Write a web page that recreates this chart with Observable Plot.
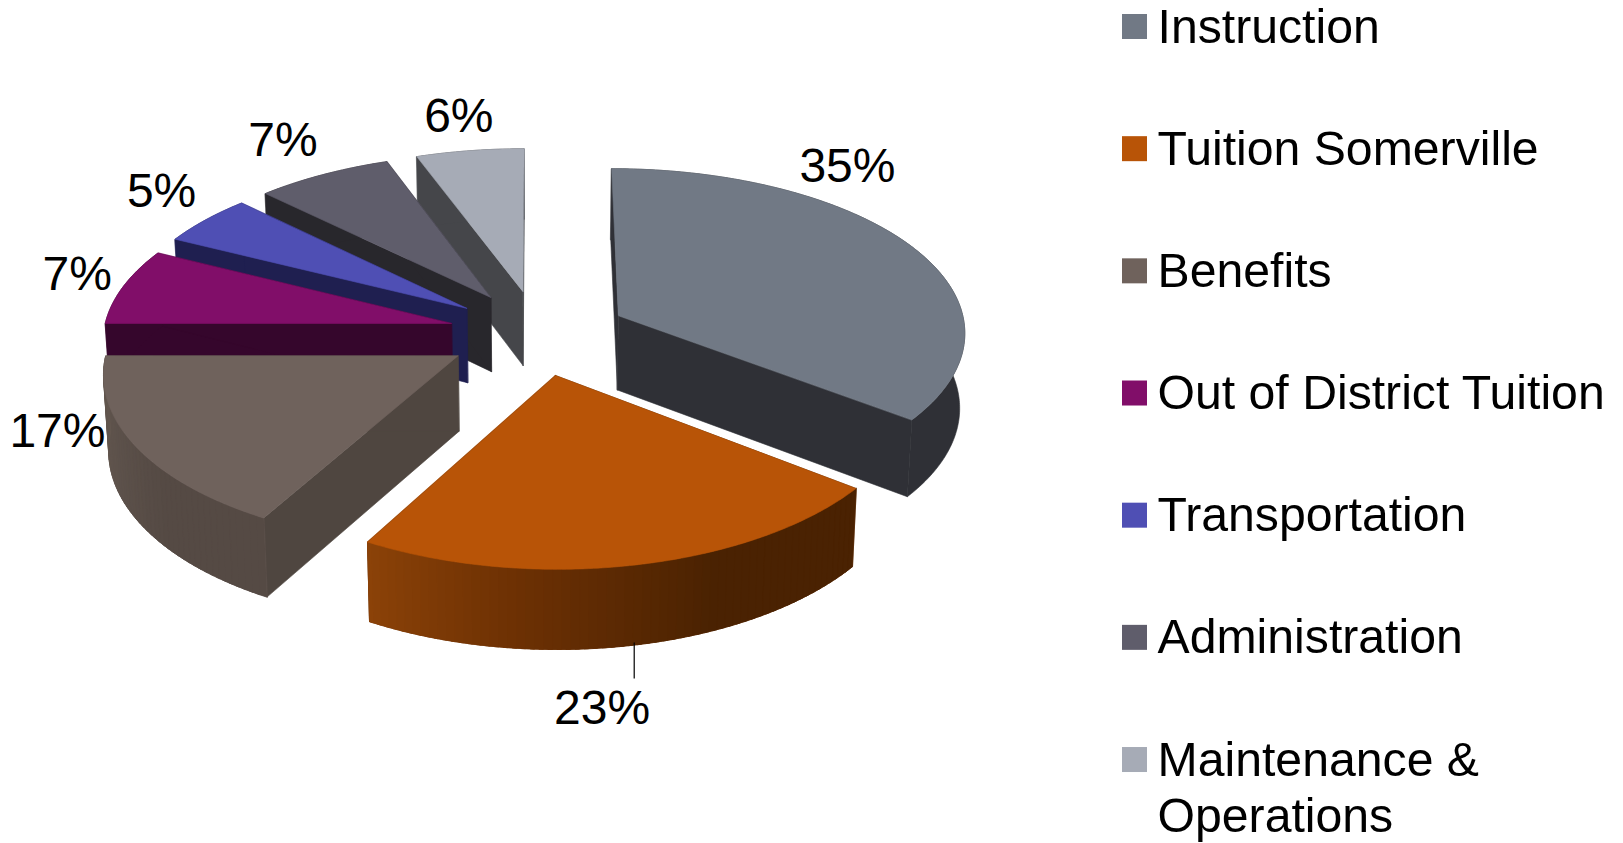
<!DOCTYPE html>
<html>
<head>
<meta charset="utf-8">
<script src="https://cdn.jsdelivr.net/npm/d3@7"></script>
<script src="https://cdn.jsdelivr.net/npm/@observablehq/plot@0.6"></script>
<style>html,body{margin:0;padding:0;background:#fff}svg{display:block}</style>
</head>
<body>
<div id="chart"></div>
<script>
// data
const categories = ["Instruction","Tuition Somerville","Benefits","Out of District Tuition","Transportation","Administration","Maintenance & Operations"];
const shares = [35.42, 22.72, 16.86, 7.45, 4.97, 7.03, 5.55];
const topColors = ["#717985","#b85407","#6f625c","#810e69","#4f4fb4","#5f5d6b","#a6abb6"];
const wallColors = ["#2f3036","#4a2202","#4f4640","#35062c","#1f1f50","#28272c","#45464a"];
const rimLeftColors = ["#2f3036","#8b4208","#63574f","#35062c","#1f1f50","#28272c","#45464a"];
const rimMidColors = ["#2f3036","#6b3003","#5e534c","#35062c","#1f1f50","#28272c","#45464a"];
const rimRightColors = ["#2f3036","#4a2202","#554a44","#35062c","#1f1f50","#28272c","#45464a"];
const legendLines = [["Instruction"],["Tuition Somerville"],["Benefits"],["Out of District Tuition"],["Transportation"],["Administration"],["Maintenance &","Operations"]];
// label nudges from the rim midpoint of each slice
const labelNudge = [[-69,-79],[-38,142],[-80,-15],[-46,-12],[-44,-28],[-41,-34],[-13,-34]];
// small per-slice shifts of the exploded slices
const sliceNudge = [[-4,1],[-4,-2],[-2,0],[0,0],[0,0],[-1,0],[-2,0]];

// geometry of the view
const W = 1623, H = 843;
const view = {cx:540, cy:333, fx:348, fy:165, kx:0.09, k:0.1, explode:0.265, depth:75, shrink:0.988};
const rad = d => d*Math.PI/180;
function project(X, Y, lower, nudge=[0,0]) {
  const s = 1/(1+view.k*Y), sx = 1/(1+view.kx*Y);
  let x = view.cx + view.fx*X*sx, y = view.cy - view.fy*Y*s;
  if (lower) { x = view.cx + (x-view.cx)*view.shrink; y += view.depth*Math.sqrt(s); }
  return [x+nudge[0],y+nudge[1]];
}
const total = d3.sum(shares);
let run = 0;
const slices = shares.map((v,i)=>{
  const a0 = run/total*360; run += v; const a1 = run/total*360;
  const m = (a0+a1)/2;
  return {i, a0, a1, m, ox: view.explode*Math.sin(rad(m)), oy: view.explode*Math.cos(rad(m))};
});
const rim = (s,a,lower)=>project(s.ox+Math.sin(rad(a)), s.oy+Math.cos(rad(a)), lower, sliceNudge[s.i]);
const apex = (s,lower)=>project(s.ox, s.oy, lower, sliceNudge[s.i]);

// faces, painted from back to front
const faces = [];
let fid = 0;
function face(pts, color){ fid++; pts.forEach(p=>faces.push({id:fid,x:p[0],y:p[1],color})); }
const paintOrder = [6,5,4,3,2,0,1];
for (const i of paintOrder) {
  const s = slices[i];
  const n = Math.max(2,Math.ceil((s.a1-s.a0)*1.5));
  const at = j => s.a0+(s.a1-s.a0)*j/n;
  face([apex(s,false),rim(s,s.a0,false),rim(s,s.a0,true),apex(s,true)], wallColors[i]);
  face([apex(s,false),rim(s,s.a1,false),rim(s,s.a1,true),apex(s,true)], wallColors[i]);
  // whole rim in one piece, then bands of shading over it
  const upper = d3.range(n+1).map(j=>rim(s,at(j),false));
  const lower = d3.range(n+1).map(j=>rim(s,at(j),true)).reverse();
  face(upper.concat(lower), rimMidColors[i]);
  if (rimLeftColors[i] !== rimRightColors[i]) {
    const ramp = d3.scaleLinear().domain([0,0.35,0.7,1]).range([rimRightColors[i],rimRightColors[i],rimMidColors[i],rimLeftColors[i]]).interpolate(d3.interpolateRgb);
    const band = 2;
    for (let j=0;j<n;j+=band){
      const e = Math.min(n,j+band+1);
      const c = d3.color(ramp((j+band/2)/n)).formatHex();
      face([rim(s,at(j),false),rim(s,at(e),false),rim(s,at(e),true),rim(s,at(j),true)], c);
    }
  }
  face([apex(s,false)].concat(upper), topColors[i]);
}

// percentage labels
const labels = slices.map((s,i)=>{
  const p = project((1+view.explode)*Math.sin(rad(s.m)), (1+view.explode)*Math.cos(rad(s.m)), false);
  return {x:p[0]+labelNudge[i][0], y:p[1]+labelNudge[i][1], text:Math.round(shares[i])+"%"};
});
// leader of the Tuition label
const leadFrom = rim(slices[1],slices[1].m+0.1,true);
const leader = [{x:leadFrom[0],y1:leadFrom[1]-2,y2:leadFrom[1]+34}];

// legend
const legend = {x:1122, y:14, size:25, step:122.17, textX:1157, base:28, lead:56};
const legendRows = categories.map((c,i)=>({c,i,y:legend.y+i*legend.step}));
const legendText = legendLines.flatMap((ls,i)=>ls.map((t,j)=>({t,y:legend.y+i*legend.step+legend.base+j*legend.lead})));

const font = "'Liberation Sans', Arial, Helvetica, sans-serif";
const plot = Plot.plot({
  width:W, height:H, margin:0,
  x:{domain:[0,W],range:[0,W],axis:null},
  y:{domain:[0,H],range:[0,H],axis:null},
  color:{type:"identity"},
  style:{background:"#fff"},
  marks:[
    Plot.line(faces,{x:"x",y:"y",z:"id",fill:"color",stroke:"color",strokeWidth:0.6,curve:"linear-closed"}),
    Plot.ruleX(leader,{x:"x",y1:"y1",y2:"y2",stroke:"#000",strokeWidth:1.2}),
    Plot.text(labels,{x:"x",y:"y",text:"text",fontSize:48,fontFamily:font,fill:"#000",textAnchor:"middle"}),
    Plot.rect(legendRows,{x1:()=>legend.x,x2:()=>legend.x+legend.size,y1:"y",y2:d=>d.y+legend.size,fill:d=>topColors[d.i]}),
    Plot.text(legendText,{x:()=>legend.textX,y:"y",text:"t",fontSize:48.2,fontFamily:font,fill:"#000",textAnchor:"start",lineAnchor:"bottom"})
  ]
});
document.getElementById("chart").appendChild(plot);
</script>
</body>
</html>
